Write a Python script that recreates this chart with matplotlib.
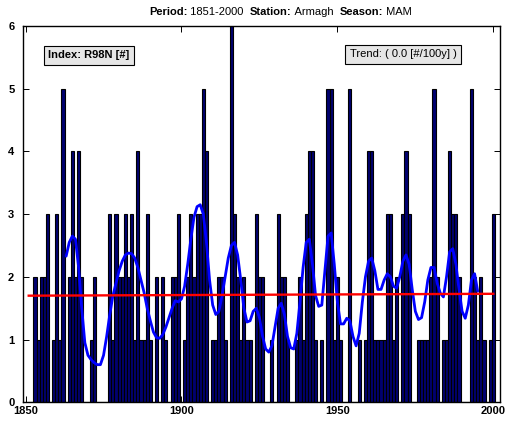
import matplotlib
matplotlib.use('Agg')
import matplotlib.pyplot as plt

plt.rcParams['font.family'] = ['Liberation Sans', 'DejaVu Sans']

years = list(range(1851, 2001))
counts = [0, 0, 2, 1, 2, 2, 3, 0, 1, 3,   # 1851-1860
          1, 5, 0, 2, 4, 2, 4, 2, 0, 0,   # 1861-1870
          1, 2, 0, 0, 0, 0, 3, 1, 3, 2,   # 1871-1880
          2, 3, 2, 3, 1, 4, 1, 1, 3, 1,   # 1881-1890
          0, 2, 0, 2, 1, 0, 2, 2, 3, 0,   # 1891-1900
          1, 2, 3, 2, 3, 3, 5, 4, 0, 1,   # 1901-1910
          1, 2, 2, 1, 0, 6, 3, 2, 1, 2,   # 1911-1920
          1, 1, 0, 3, 2, 2, 0, 0, 1, 0,   # 1921-1930
          3, 2, 2, 1, 0, 0, 1, 2, 1, 3,   # 1931-1940
          4, 4, 1, 0, 1, 0, 5, 5, 1, 2,   # 1941-1950
          1, 0, 0, 5, 0, 0, 1, 0, 1, 4,   # 1951-1960
          4, 1, 1, 1, 1, 3, 3, 1, 2, 0,   # 1961-1970
          3, 4, 3, 0, 0, 1, 1, 1, 1, 2,   # 1971-1980
          5, 2, 0, 1, 1, 4, 3, 3, 2, 0,   # 1981-1990
          0, 0, 5, 2, 1, 2, 1, 0, 1, 3]   # 1991-2000

curve_years = list(range(1863, 1996))
curve_vals = [2.33, 2.55, 2.65, 2.60, 2.15, 1.50, 0.95, 0.75, 0.68, 0.63,  # 1863-1872
              0.60, 0.60, 0.75, 1.05, 1.40, 1.70, 1.90, 2.10, 2.25, 2.35,  # 1873-1882
              2.38, 2.37, 2.30, 2.15, 1.95, 1.75, 1.50, 1.30, 1.12, 1.03,  # 1883-1892
              1.02, 1.08, 1.20, 1.35, 1.50, 1.62, 1.60, 1.65, 1.85, 2.20,  # 1893-1902
              2.60, 2.95, 3.12, 3.15, 3.00, 2.55, 1.95, 1.55, 1.40, 1.45,  # 1903-1912
              1.70, 2.00, 2.30, 2.50, 2.55, 2.35, 1.95, 1.50, 1.28, 1.30,  # 1913-1922
              1.45, 1.50, 1.35, 1.05, 0.85, 0.80, 0.90, 1.20, 1.50, 1.58,  # 1923-1932
              1.40, 1.05, 0.87, 0.85, 1.10, 1.60, 2.15, 2.55, 2.60, 2.20,  # 1933-1942
              1.70, 1.53, 1.55, 2.10, 2.65, 2.70, 2.20, 1.60, 1.25, 1.25,  # 1943-1952
              1.34, 1.30, 1.05, 0.90, 1.10, 1.60, 2.00, 2.25, 2.30, 2.10,  # 1953-1962
              1.80, 1.80, 1.95, 2.05, 2.00, 1.85, 1.82, 2.00, 2.25, 2.35,  # 1963-1972
              2.20, 1.80, 1.45, 1.32, 1.35, 1.60, 1.95, 2.15, 2.15, 1.90,  # 1973-1982
              1.74, 1.68, 2.00, 2.40, 2.45, 2.20, 1.80, 1.45, 1.34, 1.55,  # 1983-1992
              1.95, 2.05, 1.77]                                            # 1993-1995

trend_years = [1851, 2000]
trend_vals = [1.70, 1.73]

x_ticks = [1850, 1900, 1950, 2000]
y_ticks = [0, 1, 2, 3, 4, 5, 6]

W, H = 511, 423
fig = plt.figure(figsize=(W / 100, H / 100), dpi=100)
ax = fig.add_axes([22.7 / W, 1 - 402.3 / H, (500 - 22.7) / W, (402.3 - 26) / H])

ax.bar(years, counts, width=1.0, color='#000070', edgecolor='black', linewidth=0.8, zorder=2)
ax.plot(curve_years, curve_vals, color='#0000FF', linewidth=2.0, zorder=3,
        solid_joinstyle='round', solid_capstyle='round')
ax.plot(trend_years, trend_vals, color='#FF0000', linewidth=1.7, zorder=4)

ax.set_xlim(1849.07, 2002.15)
ax.set_ylim(0, 6)
ax.set_xticks(x_ticks)
ax.set_yticks(y_ticks)
ax.set_xticklabels([str(t) for t in x_ticks], fontsize=8, fontweight='bold')
ax.set_yticklabels([str(t) for t in y_ticks], fontsize=8, fontweight='bold')
ax.tick_params(direction='in', length=4, width=0.7, top=True, right=True)
ax.tick_params(axis='x', pad=3)
ax.tick_params(axis='y', pad=6)
for s in ax.spines.values():
    s.set_linewidth(1.0)
    s.set_zorder(5)

ax.text(1857.3, 5.53, 'Index: R98N [#]', fontsize=8, fontweight='bold', ha='left', va='center',
        bbox=dict(boxstyle='square,pad=0.4', facecolor='#E6E6E6', edgecolor='black', linewidth=0.8), zorder=6)
ax.text(1954.0, 5.55, 'Trend: ( 0.0 [#/100y] )', fontsize=8, ha='left', va='center',
        bbox=dict(boxstyle='square,pad=0.4', facecolor='#E6E6E6', edgecolor='black', linewidth=0.8), zorder=6)

# Title with mixed weights
pieces = [('Period:', 'bold'), (' 1851-2000  ', 'normal'), ('Station:', 'bold'),
          (' Armagh  ', 'normal'), ('Season:', 'bold'), (' MAM', 'normal')]
fig.canvas.draw()
renderer = fig.canvas.get_renderer()
x_px = 149.0
for txt, wt in pieces:
    t = fig.text(x_px / W, 1 - 15.0 / H, txt, fontsize=8, fontweight=wt, ha='left', va='baseline')
    bb = t.get_window_extent(renderer=renderer)
    x_px += bb.width

fig.savefig('out.png', dpi=100)
